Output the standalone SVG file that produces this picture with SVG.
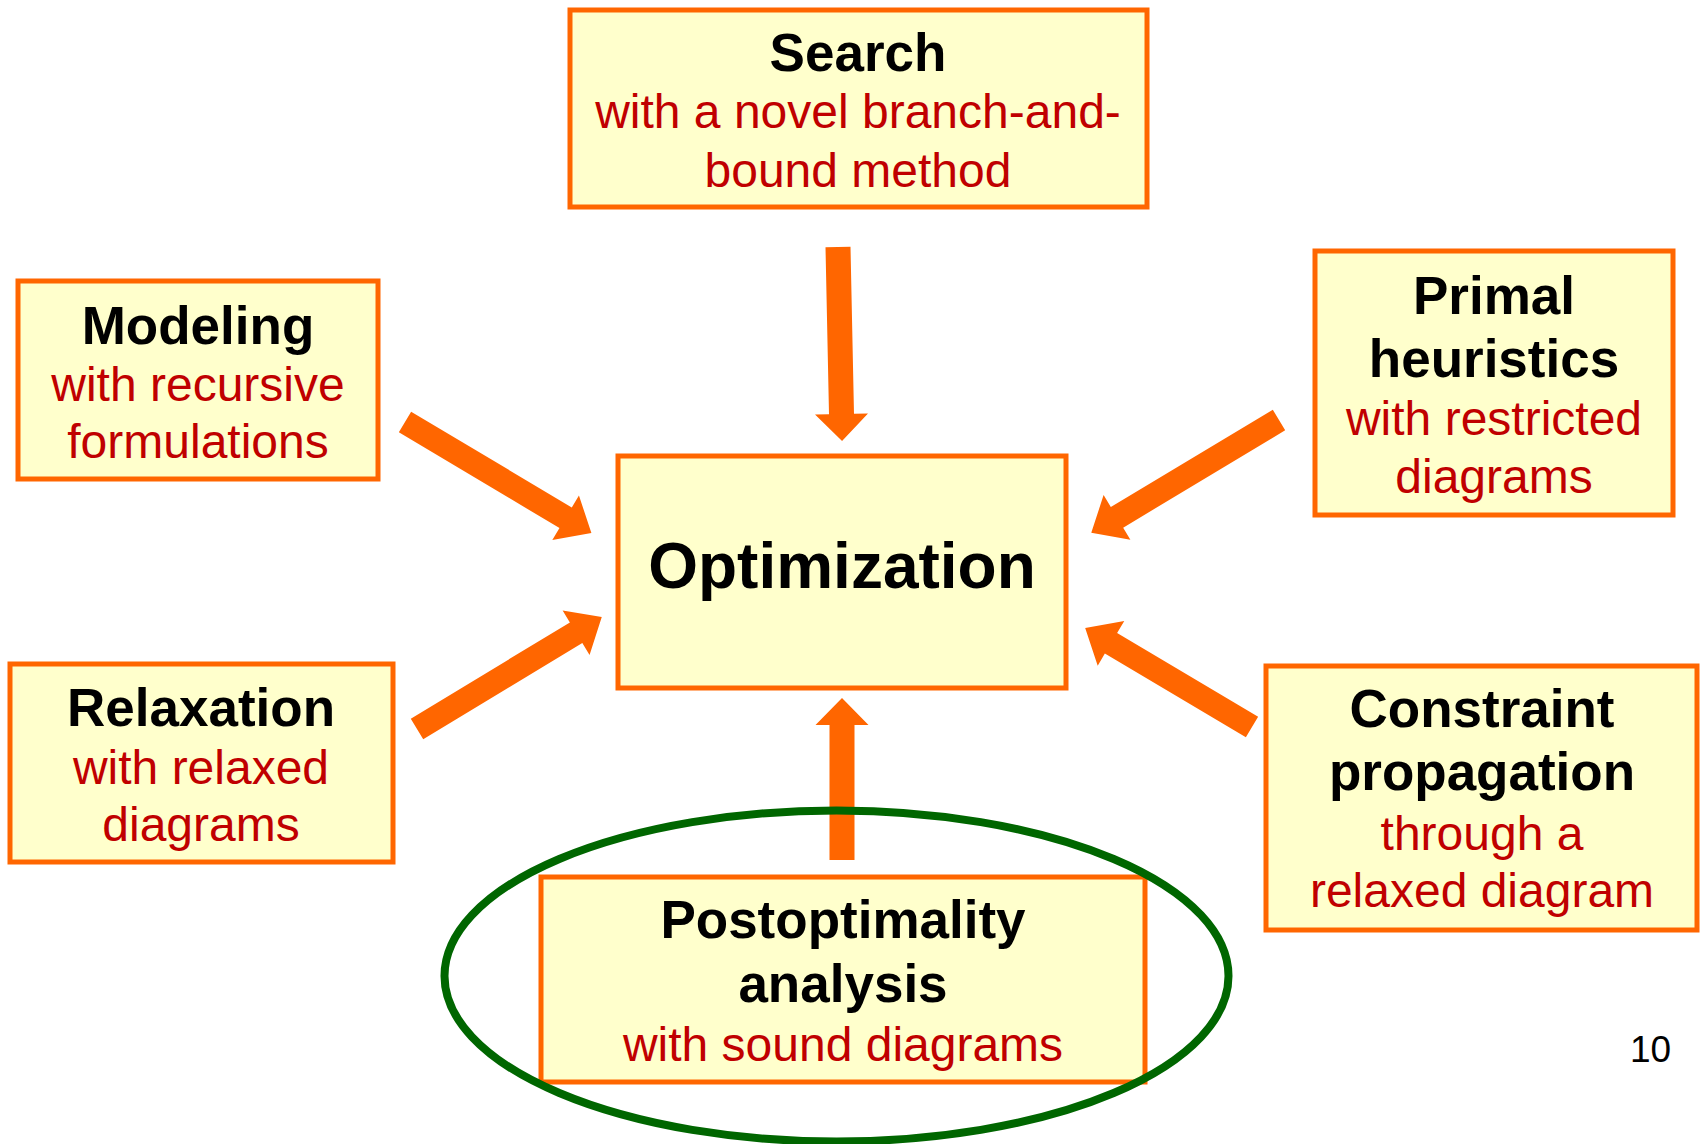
<svg xmlns="http://www.w3.org/2000/svg" width="1707" height="1144" viewBox="0 0 1707 1144">
  <style>
    .box { fill: #FFFFCC; stroke: #FF6600; stroke-width: 5; }
    .title { font-family: "Liberation Sans", Arial, sans-serif; font-weight: bold; font-size: 53px; fill: #000000; text-anchor: middle; }
    .main { font-family: "Liberation Sans", Arial, sans-serif; font-weight: bold; font-size: 64px; fill: #000000; text-anchor: middle; }
    .sub { font-family: "Liberation Sans", Arial, sans-serif; font-size: 48px; fill: #C00000; text-anchor: middle; }
    .arrow { fill: #FF6600; }
    .page { font-family: "Liberation Sans", Arial, sans-serif; font-size: 37px; fill: #000000; }
  </style>

  <rect width="1707" height="1144" fill="#FFFFFF"/>

  <!-- Nodes -->
  <g id="search">
    <rect class="box" x="570" y="10" width="577" height="197"/>
    <text class="title" x="858" y="71">Search</text>
    <text class="sub" x="858" y="128">with a novel branch-and-</text>
    <text class="sub" x="858" y="187">bound method</text>
  </g>

  <g id="modeling">
    <rect class="box" x="18" y="281" width="360" height="198"/>
    <text class="title" x="198" y="344">Modeling</text>
    <text class="sub" x="198" y="401">with recursive</text>
    <text class="sub" x="198" y="458">formulations</text>
  </g>

  <g id="primal-heuristics">
    <rect class="box" x="1315" y="251" width="358" height="264"/>
    <text class="title" x="1494" y="314">Primal</text>
    <text class="title" x="1494" y="377">heuristics</text>
    <text class="sub" x="1494" y="435">with restricted</text>
    <text class="sub" x="1494" y="493">diagrams</text>
  </g>

  <g id="optimization">
    <rect class="box" x="618" y="456" width="448" height="232"/>
    <text class="main" x="842" y="588">Optimization</text>
  </g>

  <g id="relaxation">
    <rect class="box" x="10" y="664" width="383" height="198"/>
    <text class="title" x="201" y="726">Relaxation</text>
    <text class="sub" x="201" y="784">with relaxed</text>
    <text class="sub" x="201" y="841">diagrams</text>
  </g>

  <g id="constraint-propagation">
    <rect class="box" x="1266" y="666" width="431" height="264"/>
    <text class="title" x="1482" y="727">Constraint</text>
    <text class="title" x="1482" y="790">propagation</text>
    <text class="sub" x="1482" y="850">through a</text>
    <text class="sub" x="1482" y="907">relaxed diagram</text>
  </g>

  <g id="postoptimality">
    <rect class="box" x="541" y="877" width="604" height="205"/>
    <text class="title" x="843" y="938">Postoptimality</text>
    <text class="title" x="843" y="1002">analysis</text>
    <text class="sub" x="843" y="1061">with sound diagrams</text>
  </g>

  <!-- Connectors: block arrows drawn along +x from the start point, then rotated -->
  <g id="connectors">
    <!-- Search -> Optimization -->
    <polygon class="arrow" transform="translate(838,247) rotate(88.8)" points="0,-12.5 167,-12.5 167,-26.5 194,0 167,26.5 167,12.5 0,12.5"/>
    <!-- Modeling -> Optimization -->
    <polygon class="arrow" transform="translate(405,422) rotate(30.8)" points="0,-12 187,-12 187,-26 217,0 187,26 187,12 0,12"/>
    <!-- Primal heuristics -> Optimization -->
    <polygon class="arrow" transform="translate(1279,420) rotate(149)" points="0,-12 189,-12 189,-26 219,0 189,26 189,12 0,12"/>
    <!-- Relaxation -> Optimization -->
    <polygon class="arrow" transform="translate(417,729) rotate(-31.2)" points="0,-12 186,-12 186,-26 216,0 186,26 186,12 0,12"/>
    <!-- Constraint propagation -> Optimization -->
    <polygon class="arrow" transform="translate(1252,727) rotate(-149.3)" points="0,-12 164,-12 164,-26 194,0 164,26 164,12 0,12"/>
    <!-- Postoptimality -> Optimization -->
    <polygon class="arrow" transform="translate(842,860) rotate(-90)" points="0,-12.5 135,-12.5 135,-26.5 162,0 135,26.5 135,12.5 0,12.5"/>
  </g>

  <!-- Highlight ring around the postoptimality node -->
  <ellipse id="highlight" cx="836.5" cy="976" rx="392" ry="165.5" fill="none" stroke="#006600" stroke-width="8"/>

  <text class="page" x="1630" y="1062">10</text>
</svg>
